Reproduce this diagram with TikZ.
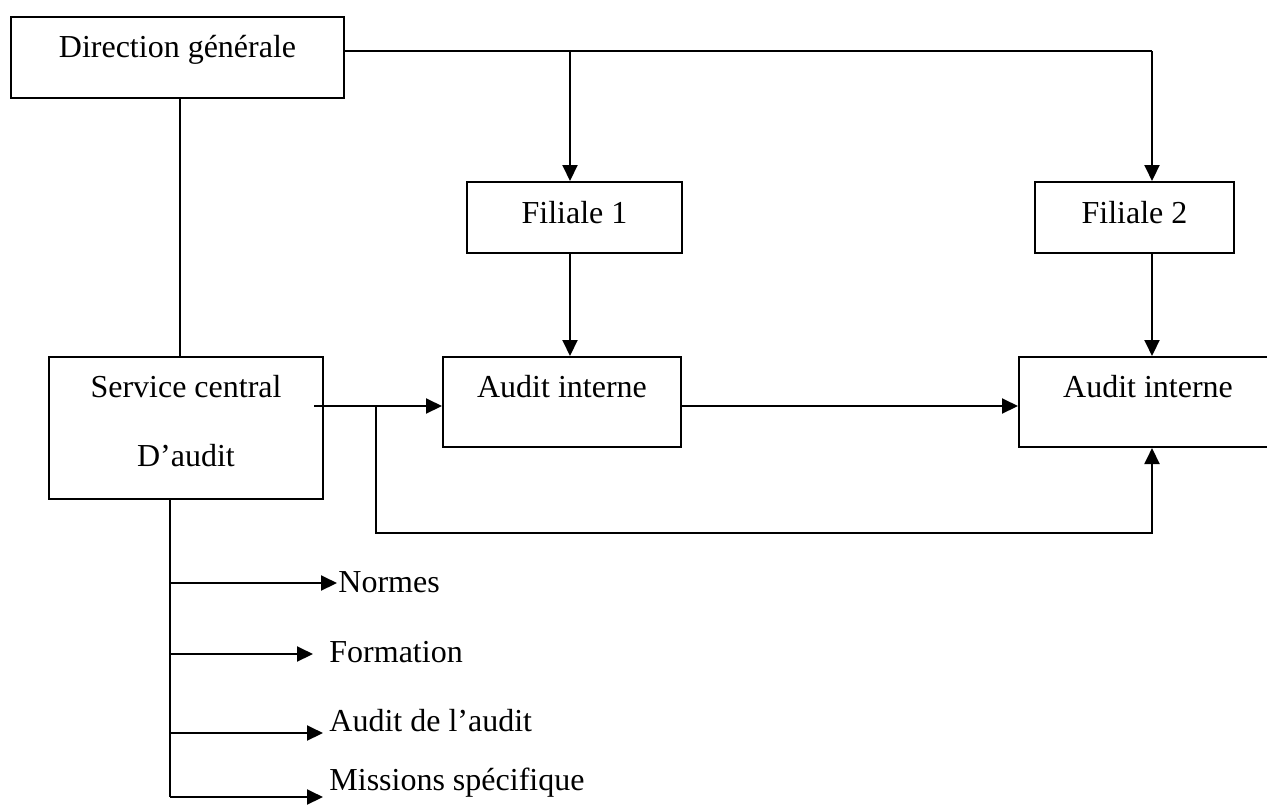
\documentclass[tikz,border=0pt]{standalone}
\usepackage{fontspec}
\setmainfont{Liberation Serif}
\usetikzlibrary{arrows.meta,positioning}
\tikzstyle{box}=[draw,rectangle,line width=1pt,inner sep=0pt,font=\fontsize{16}{19}\selectfont]
\tikzstyle{item}=[anchor=base west,inner sep=0pt,font=\fontsize{16}{19}\selectfont]
\tikzstyle{wire} = [draw,line width=1pt,-]
\tikzstyle{flow} = [draw,line width=1pt,-{Triangle[length=8pt,width=7.5pt]}]

\begin{document}
\begin{tikzpicture}[x=0.5pt,y=-0.5pt]
    \useasboundingbox (0,0) rectangle (1267,804);
    % First we draw the boxes
    \node[box,minimum width=166.5pt,minimum height=40.5pt,text height=12pt,text depth=12pt] (dg) at (177.5,57.5) {Direction générale};
    \node[box,minimum width=107.5pt,minimum height=35.5pt,text height=11pt,text depth=5.5pt] (f1) at (574.5,217.5) {Filiale 1};
    \node[box,minimum width=99.5pt,minimum height=35.5pt,text height=11pt,text depth=5.5pt] (f2) at (1134.5,217.5) {Filiale 2};
    \node[box,minimum width=137pt,minimum height=71pt,align=center] (sc) at (186,428) {Service central\\[15.5pt]D’audit\rule[-7.4pt]{0pt}{0pt}};
    \node[box,minimum width=119pt,minimum height=45pt,text height=11pt,text depth=16pt] (a1) at (562,402) {Audit interne};
    \node[box,minimum width=129pt,minimum height=45pt,text height=11pt,text depth=16pt] (a2) at (1148,402) {Audit interne};
    % Corners and branch points
    \coordinate (t1) at (570,51);
    \coordinate (t2) at (1152,51);
    \coordinate (s0) at (314,406);
    \coordinate (b0) at (376,406);
    \coordinate (fb) at (376,533);
    \coordinate (v4) at (170,797);
    % Connect boxes with lines
    \path[wire] (dg.east |- t2) -- (t2);
    \path[flow] (t1) -- (t1 |- f1.north);
    \path[flow] (t2) -- (t2 |- f2.north);
    \path[flow] (t1 |- f1.south) -- (t1 |- a1.north);
    \path[flow] (t2 |- f2.south) -- (t2 |- a2.north);
    \path[wire] ([xshift=1.25pt]dg.south) -- ([xshift=1.25pt]dg.south |- sc.north);
    \path[flow] (s0) -- (s0 -| a1.west);
    \path[flow] (s0 -| a1.east) -- (s0 -| a2.west);
    \path[flow] (b0) -- (fb) -| (t2 |- a2.south);
    \path[wire] (v4 |- sc.south) -- (v4);
    % Then the tasks of the central service
    \foreach \name/\ya/\xe/\xt/\yt/\txt in {nor/583/337/338/592/Normes, frm/654/313/329/662/Formation, aud/733/323/329/731/Audit de l’audit, mis/797/323/329/790/Missions spécifique}
    {
        \node[item] (\name) at (\xt,\yt) {\txt};
        \coordinate (\name-tip) at (\xe,\ya);
        \path[flow] (v4 |- \name-tip) -- (\name-tip);
    }
\end{tikzpicture}
\end{document}
